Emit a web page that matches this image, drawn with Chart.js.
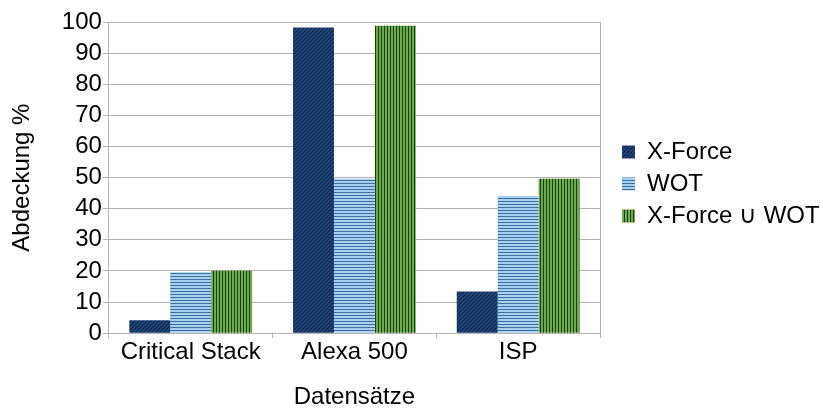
<!DOCTYPE html>
<html>
<head>
<meta charset="utf-8">
<script src="https://cdn.jsdelivr.net/npm/chart.js@4"></script>
<style>
  html, body { margin: 0; padding: 0; background: #fff; }
  #wrap { width: 823px; height: 409px; }
</style>
</head>
<body>
<div id="wrap"><canvas id="coverageChart"></canvas></div>
<script>
const categories = ["Critical Stack", "Alexa 500", "ISP"];
const xforce = [4.2, 98.2, 13.4];
const wot = [19.6, 49.6, 44.1];
const union = [20.1, 98.8, 49.6];
const yTicks = { min: 0, max: 100, step: 10 };

// small hatch tiles, like the office-suite fills in the original
function hatch(kind, base, line) {
  const c = document.createElement("canvas");
  const ctx = c.getContext("2d");
  if (kind === "diag") {
    c.width = 4; c.height = 4;
    ctx.fillStyle = base; ctx.fillRect(0, 0, 4, 4);
    ctx.strokeStyle = line; ctx.lineWidth = 1.2;
    ctx.beginPath();
    ctx.moveTo(-1, 5); ctx.lineTo(5, -1);
    ctx.moveTo(-1, 1); ctx.lineTo(1, -1);
    ctx.moveTo(3, 5); ctx.lineTo(5, 3);
    ctx.stroke();
  } else if (kind === "horiz") {
    c.width = 1; c.height = 3;
    ctx.fillStyle = base; ctx.fillRect(0, 0, 1, 3);
    ctx.fillStyle = line; ctx.fillRect(0, 0, 1, 1);
  } else {
    c.width = 3; c.height = 1;
    ctx.fillStyle = base; ctx.fillRect(0, 0, 3, 1);
    ctx.fillStyle = line; ctx.fillRect(0, 0, 1, 1);
  }
  return ctx.createPattern(c, "repeat");
}

const gridColor = "#b3b3b3";
const fam = "'Liberation Sans', Arial, sans-serif";
const font = { family: fam, size: 24 };

const rightBorder = {
  id: "rightBorder",
  afterDraw(chart) {
    const a = chart.chartArea, ctx = chart.ctx;
    ctx.save();
    ctx.strokeStyle = gridColor; ctx.lineWidth = 1;
    ctx.beginPath();
    ctx.moveTo(Math.round(a.right) + 0.5, a.top);
    ctx.lineTo(Math.round(a.right) + 0.5, a.bottom);
    ctx.stroke();
    ctx.restore();
  }
};

new Chart(document.getElementById("coverageChart"), {
  type: "bar",
  data: {
    labels: categories,
    datasets: [
      { label: "X-Force", data: xforce, backgroundColor: hatch("diag", "#21497d", "#0d254b") },
      { label: "WOT", data: wot, backgroundColor: hatch("horiz", "#a6cff2", "#3f6f9f") },
      { label: "X-Force \u222A WOT", data: union, backgroundColor: hatch("vert", "#6aac45", "#1d3d10") }
    ]
  },
  options: {
    responsive: true,
    maintainAspectRatio: false,
    animation: false,
    datasets: { bar: { categoryPercentage: 0.75, barPercentage: 1 } },
    layout: { padding: { top: 22, right: 0, bottom: 0, left: 8 } },
    scales: {
      x: {
        grid: { drawOnChartArea: false, color: gridColor, tickLength: 5, offset: true },
        border: { color: gridColor },
        ticks: { color: "#000", font: font, padding: 0 },
        title: { display: true, text: "Datensätze", color: "#000", font: { family: fam, size: 24, lineHeight: 1 }, padding: { top: 18, bottom: 0 } }
      },
      y: {
        min: yTicks.min,
        max: yTicks.max,
        grid: { color: gridColor, tickLength: 6 },
        border: { color: gridColor },
        ticks: { stepSize: yTicks.step, autoSkip: false, color: "#000", font: { family: fam, size: 24, lineHeight: 1 }, padding: 1 },
        title: { display: true, text: "Abdeckung %", color: "#000", font: font, padding: { top: 0, bottom: 24 } }
      },
      gap: {
        position: "right",
        min: 0,
        max: 1,
        grid: { display: false },
        border: { display: false },
        ticks: { display: false },
        afterFit(scale) { scale.width = 14; }
      }
    },
    plugins: {
      legend: {
        position: "right",
        align: "start",
        maxWidth: 209,
        title: { display: true, text: "", font: { family: fam, size: 10, lineHeight: 1 }, padding: { top: 100, bottom: 0 } },
        labels: { color: "#000", font: font, boxWidth: 13, boxHeight: 13, padding: 8 }
      },
      tooltip: { enabled: false }
    }
  },
  plugins: [rightBorder]
});
</script>
</body>
</html>
